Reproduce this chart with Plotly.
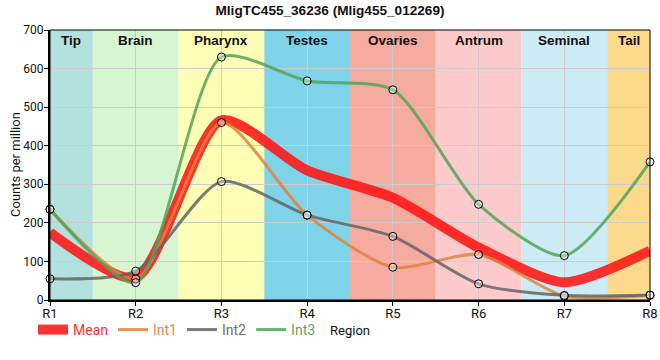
import plotly.graph_objects as go

regions = ["R1", "R2", "R3", "R4", "R5", "R6", "R7", "R8"]
int1 = [235, 55, 460, 220, 85, 118, 10, 12]
int2 = [55, 75, 307, 220, 165, 42, 12, 13]
int3 = [235, 45, 630, 568, 545, 248, 115, 358]
mean = [175, 58, 466, 336, 265, 136, 46, 128]

band_names = ["Tip", "Brain", "Pharynx", "Testes", "Ovaries", "Antrum", "Seminal", "Tail"]
band_starts = [0, 0.5, 1.5, 2.5, 3.5, 4.5, 5.5, 6.5]
band_ends = [0.5, 1.5, 2.5, 3.5, 4.5, 5.5, 6.5, 7]
band_colors = ["#b3e2de", "#d6f5d0", "#ffffb6", "#80d4ea", "#f5ab9f", "#fdcbcc", "#cdebf5", "#fdda8b"]

xs = list(range(len(regions)))
SMOOTH = 0.7

fig = go.Figure()

fig.add_trace(go.Scatter(
    x=xs, y=mean, name="<span style='color:#ff3030'>Mean</span>", mode="lines",
    line=dict(color="rgba(255,20,20,0.88)", width=10, shape="spline", smoothing=SMOOTH),
    cliponaxis=False,
))
series = [("Int1", int1, "rgba(222,132,62,0.85)", "#e08a48"),
          ("Int2", int2, "rgba(100,100,100,0.85)", "#707070"),
          ("Int3", int3, "rgba(80,165,90,0.85)", "#5aa865")]
for name, vals, col, tcol in series:
    fig.add_trace(go.Scatter(
        x=xs, y=vals, name="<span style='color:%s'>%s</span>" % (tcol, name), mode="lines",
        line=dict(color=col, width=3, shape="spline", smoothing=SMOOTH),
        cliponaxis=False,
    ))
for name, vals, col, tcol in series:
    fig.add_trace(go.Scatter(
        x=xs, y=vals, mode="markers", showlegend=False,
        marker=dict(size=8, color="rgba(255,255,255,0.35)", line=dict(color="black", width=1)),
        cliponaxis=False,
    ))

shapes = []
annotations = []
for nm, s, e, c in zip(band_names, band_starts, band_ends, band_colors):
    shapes.append(dict(type="rect", xref="x", yref="paper", x0=s, x1=e, y0=0, y1=1,
                       fillcolor=c, line=dict(width=0), layer="below"))
    annotations.append(dict(x=(s + e) / 2, y=1, xref="x", yref="paper", yanchor="top",
                            yshift=-1, text="<b>" + nm + "</b>", showarrow=False,
                            font=dict(family="Liberation Sans, Arial", size=13.5, color="#111")))
annotations.append(dict(x=-35 / 600, y=0.5, xref="paper", yref="paper", xanchor="center",
                        yanchor="middle", textangle=-90, text="Counts per million",
                        showarrow=False, font=dict(family="Roboto, Arial", size=13, color="#111")))

fig.update_layout(
    width=660, height=360,
    margin=dict(l=50, r=10, t=30, b=60, autoexpand=False),
    paper_bgcolor="white", plot_bgcolor="white",
    title=dict(text="<b>MligTC455_36236 (Mlig455_012269)</b>", x=0.5, xanchor="center",
               y=1 - 5 / 360, yanchor="top",
               font=dict(family="Liberation Sans, Arial", size=13.6, color="#111")),
    shapes=shapes, annotations=annotations,
    showlegend=True,
    legend=dict(orientation="h", xref="container", x=0.05, xanchor="left",
                y=-0.111, yanchor="middle",
                font=dict(family="Roboto, Arial", size=14), bgcolor="rgba(0,0,0,0)",
                itemwidth=30, tracegroupgap=0),
    font=dict(family="Roboto, Arial", color="#111"),
)
fig.update_xaxes(
    range=[0, 7], tickvals=xs, ticktext=regions, showgrid=True, gridcolor="#cccccc",
    showline=True, linecolor="black", linewidth=2, mirror=False, automargin=False,
    ticks="outside", ticklen=4, tickcolor="black", ticklabelstandoff=-4,
    tickfont=dict(family="Roboto, Arial", size=13, color="#111"),
    title=dict(text="Region", standoff=6, font=dict(size=13)), layer="above traces", zeroline=False,
)
fig.update_yaxes(
    range=[0, 700], dtick=100, showgrid=True, gridcolor="#cccccc",
    showline=True, linecolor="black", linewidth=2, automargin=False,
    ticks="outside", ticklen=4, tickcolor="black", ticklabelstandoff=-2,
    tickfont=dict(family="Roboto, Arial", size=12, color="#111"),
    zeroline=False,
)
fig.add_shape(type="rect", xref="paper", yref="paper", x0=0, x1=1, y0=0, y1=1,
              line=dict(color="black", width=1), fillcolor="rgba(0,0,0,0)", layer="above")

fig.write_html("out.html", config={"displayModeBar": False},
               post_script="document.body.style.margin='0';")
